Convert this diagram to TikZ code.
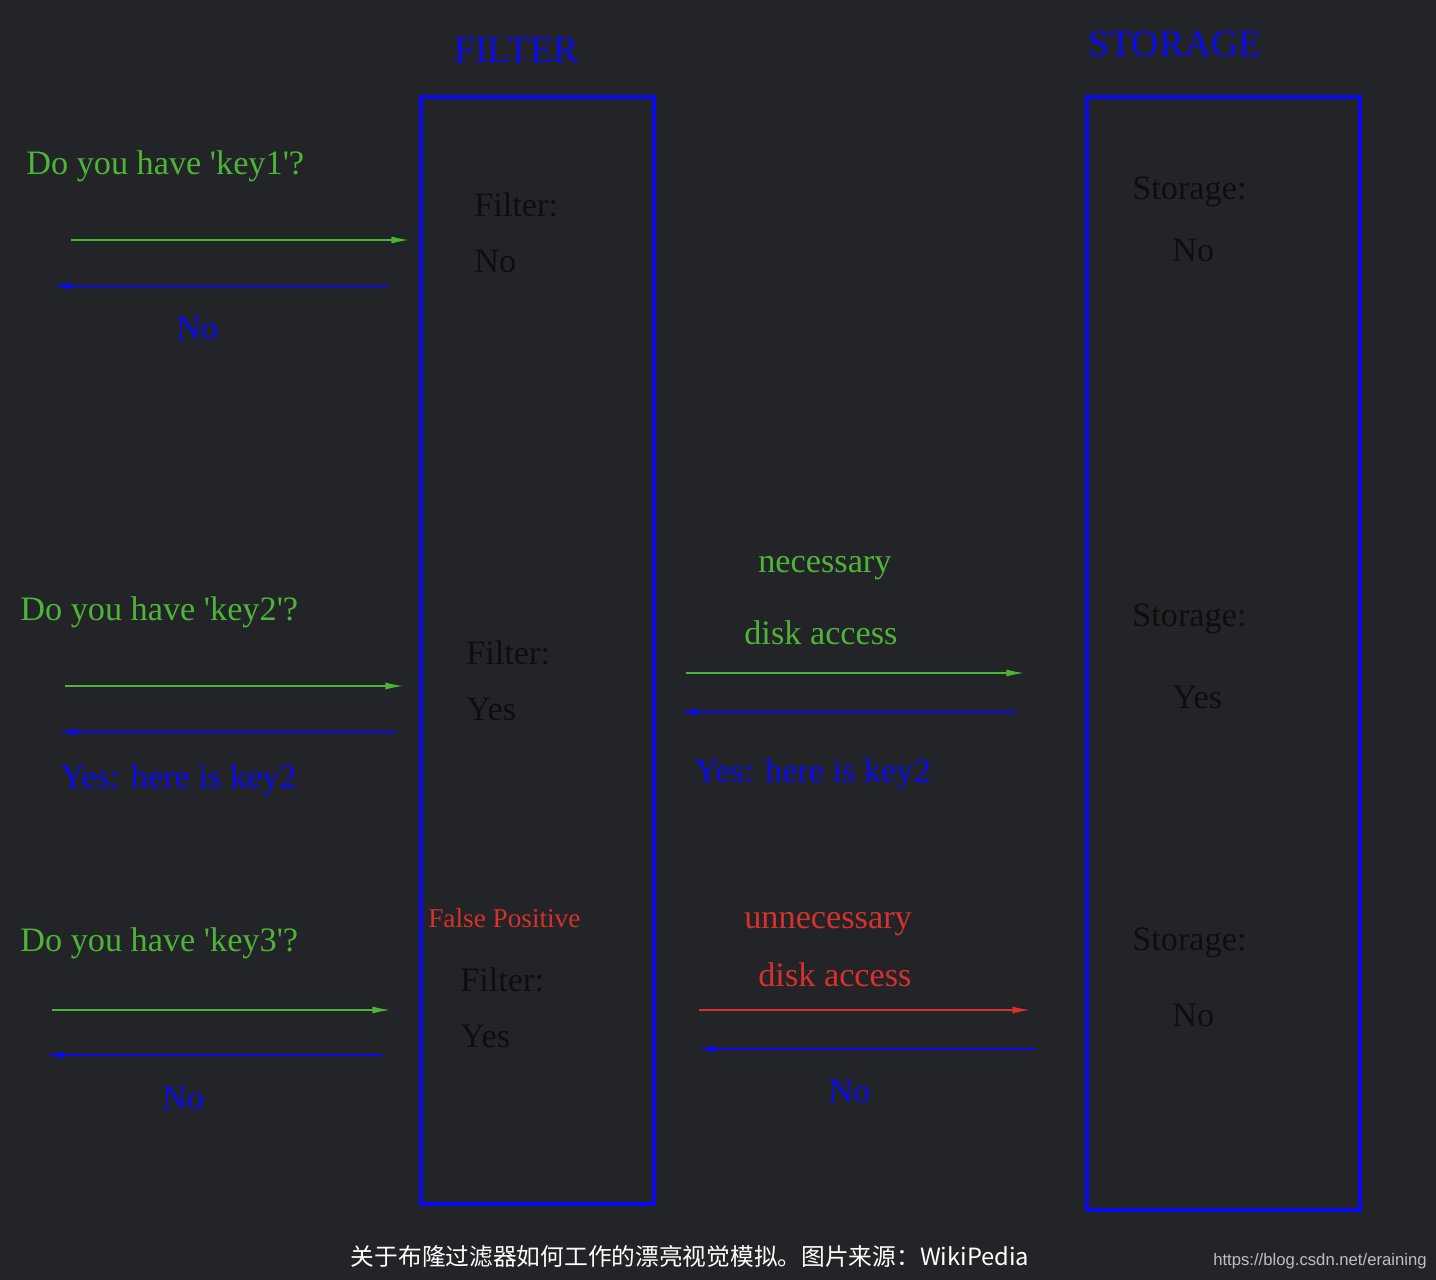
\documentclass[tikz,border=0pt]{standalone}
\usepackage{fontspec}
\setmainfont{Liberation Serif}
\newfontfamily\cjk{Noto Sans CJK SC}
\newfontfamily\wmfont{Liberation Sans}
\usetikzlibrary{arrows.meta}
\definecolor{bg}{HTML}{232428}
\definecolor{gr}{HTML}{4DB535}
\definecolor{bl}{HTML}{0A0AF0}
\definecolor{rd}{HTML}{D8302A}
\definecolor{dk}{HTML}{0E0E10}
\newcommand{\q}{\textquotesingle}
\begin{document}
\begin{tikzpicture}[x=0.02cm,y=-0.02cm,
  t/.style={inner sep=0pt,anchor=west,font=\fontsize{19.5}{21}\selectfont},
  box/.style={draw=bl,line width=2pt},
  ga/.style={draw=gr,line width=0.8pt,-{Latex[length=10pt,width=4pt]}},
  ba/.style={draw=bl,line width=0.8pt,-{Latex[length=10pt,width=4pt]}},
  ra/.style={draw=rd,line width=0.8pt,-{Latex[length=10pt,width=4pt]}}]
\fill[bg] (0,0) rectangle (1436,1280);
\useasboundingbox (0,0) rectangle (1436,1280);
\draw[box] (421,97) rectangle (654,1204);
\draw[box] (1087,97) rectangle (1360,1210);
\node[t,text=bl,font=\fontsize{21.5}{23}\selectfont] (tf) at (454,50) {FILTER};
\node[t,text=bl,font=\fontsize{21.5}{23}\selectfont] (ts) at (1088,44) {STORAGE};
% row 1
\node[t,text=gr] (q1) at (26,166) {Do you have \q key1\q ?};
\coordinate (a1s) at (71,240); \coordinate (a1e) at (409,240);
\draw[ga] (a1s) -- (a1e);
\coordinate (b1s) at (389,286); \coordinate (b1e) at (53,286);
\draw[ba] (b1s) -- (b1e);
\node[t,text=bl] (n1) at (176,328) {No};
\node[t,text=dk] (f1) at (474,205) {Filter:};
\node[t,text=dk] (f1b) at (474,261) {No};
\node[t,text=dk] (s1) at (1132,192) {Storage:};
\node[t,text=dk] (s1b) at (1172,250) {No};
% row 2
\node[t,text=gr] (q2) at (20,612) {Do you have \q key2\q ?};
\coordinate (a2s) at (65,686); \coordinate (a2e) at (403,686);
\draw[ga] (a2s) -- (a2e);
\coordinate (b2s) at (396,732); \coordinate (b2e) at (59,732);
\draw[ba] (b2s) -- (b2e);
\node[t,text=bl] (y2) at (60,780) {Yes: here is key2};
\node[t,text=dk] (f2) at (466,653) {Filter:};
\node[t,text=dk] (f2b) at (466,709) {Yes};
\node[t,text=gr] (nd1) at (758,568) {necessary};
\node[t,text=gr] (nd2) at (744,633) {disk access};
\coordinate (c2s) at (686,673); \coordinate (c2e) at (1024,673);
\draw[ga] (c2s) -- (c2e);
\coordinate (d2s) at (1016,712); \coordinate (d2e) at (680,712);
\draw[ba] (d2s) -- (d2e);
\node[t,text=bl] (y2b) at (694,774) {Yes: here is key2};
\node[t,text=dk] (s2) at (1132,619) {Storage:};
\node[t,text=dk] (s2b) at (1172,697) {Yes};
% row 3
\node[t,text=gr] (q3) at (20,943) {Do you have \q key3\q ?};
\coordinate (a3s) at (52,1010); \coordinate (a3e) at (390,1010);
\draw[ga] (a3s) -- (a3e);
\coordinate (b3s) at (383,1055); \coordinate (b3e) at (46,1055);
\draw[ba] (b3s) -- (b3e);
\node[t,text=bl] (n3) at (162,1098) {No};
\node[t,text=rd,font=\fontsize{15.5}{17}\selectfont] (fp) at (428,918) {False Positive};
\node[t,text=dk] (f3) at (460,980) {Filter:};
\node[t,text=dk] (f3b) at (460,1036) {Yes};
\node[t,text=rd] (un1) at (744,924) {unnecessary};
\node[t,text=rd] (un2) at (758,975) {disk access};
\coordinate (c3s) at (699,1010); \coordinate (c3e) at (1030,1010);
\draw[ra] (c3s) -- (c3e);
\coordinate (d3s) at (1035,1049); \coordinate (d3e) at (698,1049);
\draw[ba] (d3s) -- (d3e);
\node[t,text=bl] (n3b) at (828,1091) {No};
\node[t,text=dk] (s3) at (1132,943) {Storage:};
\node[t,text=dk] (s3b) at (1172,1015) {No};
% caption
\node[inner sep=0pt,text=white,font=\cjk\fontsize{13.5}{15}\selectfont] (cap) at (690,1256) {关于布隆过滤器如何工作的漂亮视觉模拟。图片来源：WikiPedia};
\node[inner sep=0pt,anchor=east,text=white!75!black,font=\wmfont\fontsize{9.5}{10}\selectfont] (wm) at (1427,1261) {https://blog.csdn.net/eraining};
\end{tikzpicture}
\end{document}
